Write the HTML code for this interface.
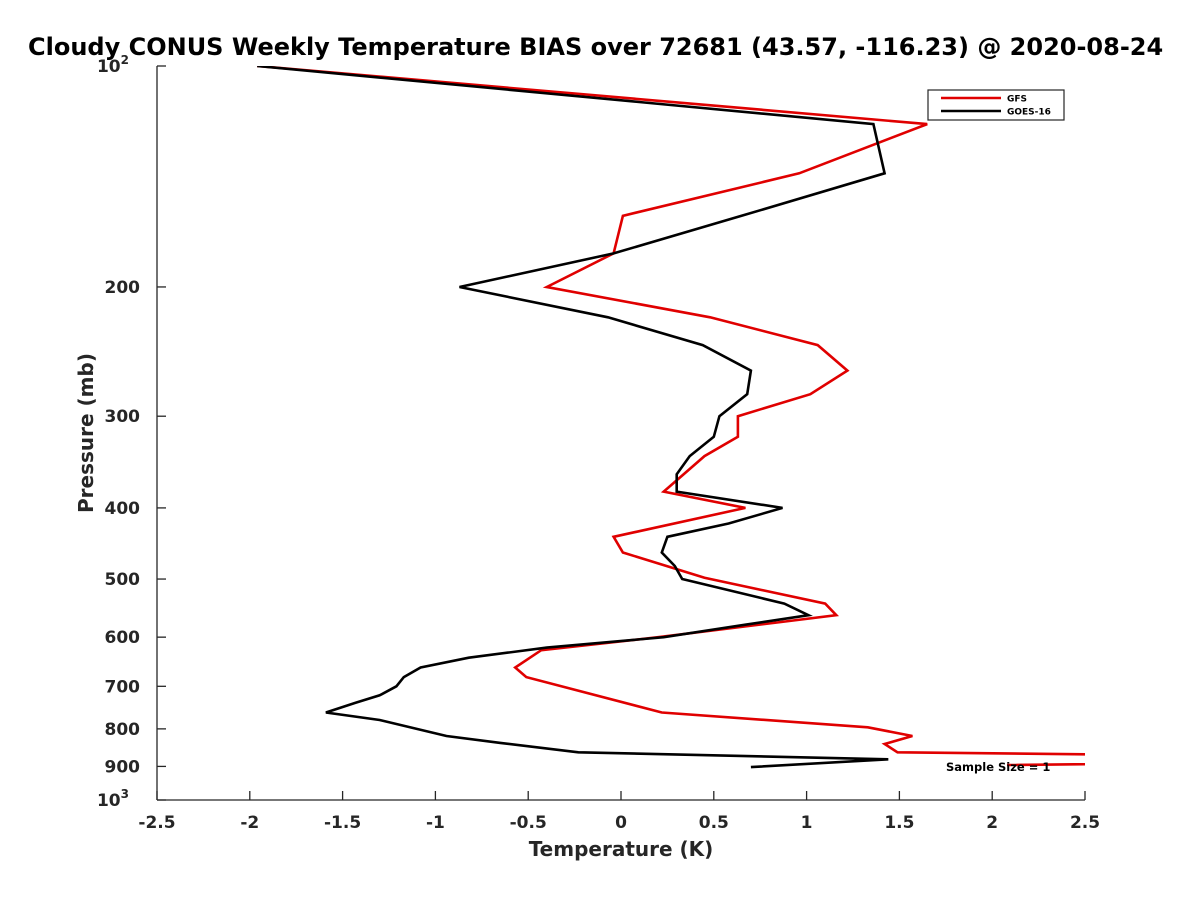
<!DOCTYPE html>
<html><head><meta charset="utf-8"><style>
html,body{margin:0;padding:0;background:#fff;overflow:hidden;}
svg{display:block;font-family:"DejaVu Sans","Liberation Sans",sans-serif;font-weight:bold;}
</style></head><body>
<svg id="chart" width="1200" height="900" viewBox="0 0 1200 900">
<defs><clipPath id="plotclip"><rect x="157" y="66" width="928" height="734"/></clipPath></defs>
<text x="28" y="55" font-size="24" fill="#000">Cloudy CONUS Weekly Temperature BIAS over 72681 (43.57, -116.23) @ 2020-08-24</text>
<g id="axes"></g>
<g id="series" clip-path="url(#plotclip)"></g>
<g>
<rect x="928" y="90" width="136" height="30" fill="#fff" stroke="#262626" stroke-width="1.2"/>
<line x1="941" y1="98" x2="1001" y2="98" stroke="#e00000" stroke-width="2.5"/>
<text x="1007" y="101.5" font-size="9" fill="#000">GFS</text>
<line x1="941" y1="111" x2="1001" y2="111" stroke="#000" stroke-width="2.5"/>
<text x="1007" y="114.5" font-size="9" fill="#000">GOES-16</text>
</g>
<text x="946" y="771" font-size="11.5" fill="#000">Sample Size = 1</text>
<text x="621" y="856" font-size="20" fill="#262626" text-anchor="middle">Temperature (K)</text>
<text transform="translate(93,433) rotate(-90)" font-size="20" fill="#262626" text-anchor="middle">Pressure (mb)</text>
</svg>
<script>
const xTicks = [-2.5,-2,-1.5,-1,-0.5,0,0.5,1,1.5,2,2.5];
const xTickLabels = ["-2.5","-2","-1.5","-1","-0.5","0","0.5","1","1.5","2","2.5"];
const yTicks = [100,200,300,400,500,600,700,800,900,1000];
const yTickLabels = ["10^2","200","300","400","500","600","700","800","900","10^3"];
const gfsPressure = [100,120,140,160,180,200,220,240,260,280,300,320,340,380,400,438,460,498,540,560,600,625,660,680,760,796,818,839,861,880,896];
const gfsTemp = [-1.96,1.65,0.96,0.01,-0.04,-0.40,0.48,1.06,1.22,1.02,0.63,0.63,0.45,0.23,0.67,-0.04,0.01,0.45,1.10,1.16,0.20,-0.43,-0.57,-0.51,0.22,1.33,1.57,1.42,1.49,5.0,2.08];
const goesPressure = [100,120,140,160,180,200,220,240,260,280,300,320,340,360,380,400,420,438,460,480,500,540,560,577,600,620,640,660,680,700,720,737,760,778,818,836,861,880,902];
const goesTemp = [-1.96,1.36,1.42,0.65,-0.04,-0.87,-0.07,0.44,0.70,0.68,0.53,0.50,0.37,0.30,0.30,0.87,0.58,0.25,0.22,0.29,0.33,0.88,1.01,0.67,0.23,-0.40,-0.82,-1.08,-1.17,-1.21,-1.30,-1.43,-1.59,-1.30,-0.94,-0.65,-0.23,1.44,0.70];

const X0=157,X1=1085,Y0=66,Y1=800;
function xs(t){return X0+(t-(-2.5))/5*(X1-X0);}
function ys(p){return Y0+Math.log10(p/100)*(Y1-Y0);}
const NS="http://www.w3.org/2000/svg";
const axes=document.getElementById('axes');
const ser=document.getElementById('series');
function mk(tag,attrs,parent){const e=document.createElementNS(NS,tag);for(const k in attrs)e.setAttribute(k,attrs[k]);parent.appendChild(e);return e;}

const yAxis=mk('line',{x1:X0,y1:Y0,x2:X0,y2:Y1,stroke:'#262626','stroke-width':1.3},axes);


const xAxis=mk('line',{x1:X0,y1:Y1,x2:X1,y2:Y1,stroke:'#262626','stroke-width':1.3},axes);



xTicks.forEach((t,i)=>{
  const x=xs(t);
  const tk=mk('line',{x1:x,y1:Y1,x2:x,y2:Y1-9,stroke:'#262626','stroke-width':1.3},axes);
  
  
  const lb=mk('text',{x:x,y:828,'font-size':17,fill:'#262626','text-anchor':'middle'},axes);
  lb.textContent=xTickLabels[i];
  
  
});
yTicks.forEach((p,i)=>{
  const y=ys(p);
  const tk=mk('line',{x1:X0,y1:y,x2:X0+9,y2:y,stroke:'#262626','stroke-width':1.3},axes);
  
  
  const s=yTickLabels[i];
  const lb=mk('text',{x:140,y:y+6,'font-size':17,fill:'#262626','text-anchor':'end'},axes);
  if(s.indexOf('^')>=0){
    const parts=s.split('^');
    lb.setAttribute('x',129);
    const a=mk('tspan',{},lb);a.textContent=parts[0];
    const b=mk('tspan',{dy:-8,'font-size':12},lb);b.textContent=parts[1];
  } else lb.textContent=s;
  
  
});

function drawLine(P,T,color,name){
  const pts=P.map((p,i)=>xs(T[i]).toFixed(1)+','+ys(p).toFixed(1)).join(' ');
  const pl=mk('polyline',{points:pts,fill:'none',stroke:color,'stroke-width':2.6,'stroke-linejoin':'miter'},ser);
  
  
}
drawLine(gfsPressure,gfsTemp,'#e00000','gfs-line');
drawLine(goesPressure,goesTemp,'#000000','goes16-line');
</script>
</body></html>
